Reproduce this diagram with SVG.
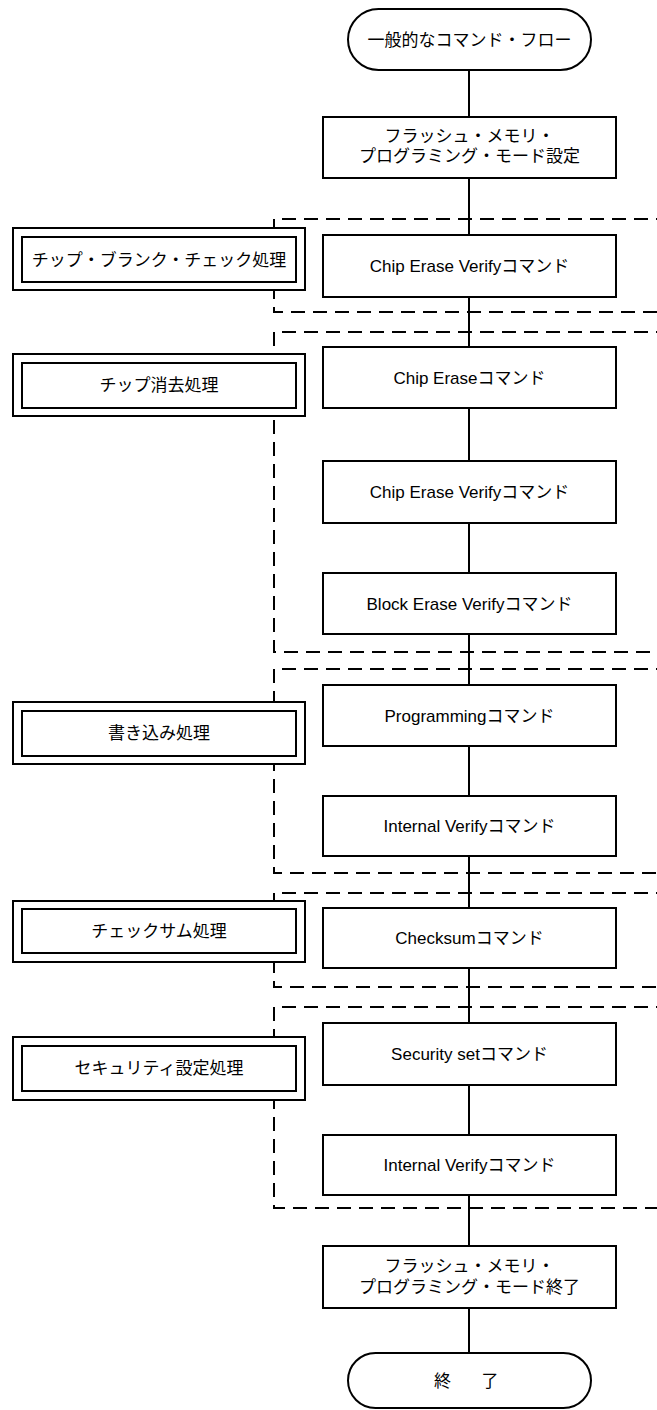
<svg xmlns="http://www.w3.org/2000/svg" width="657" height="1410" viewBox="0 0 657 1410">
<style>
.bx{fill:#fff;stroke:#000;stroke-width:2}
.ln{fill:none;stroke:#000;stroke-width:2}
.ds{fill:none;stroke:#000;stroke-width:2;stroke-dasharray:14 8}
text{font-family:"Liberation Sans","Noto Sans CJK JP",sans-serif;font-size:17px;fill:#000;text-anchor:middle}
</style>
<rect width="657" height="1410" fill="#fff"/>
<g id="groups">
<path class="ds" d="M670,219 H274 V312 H670"/>
<path class="ds" d="M670,332 H274 V652 H670"/>
<path class="ds" d="M670,669 H274 V873 H670"/>
<path class="ds" d="M670,893 H274 V987 H670"/>
<path class="ds" d="M670,1007 H274 V1208 H670"/>
</g>
<g id="connectors">
<line class="ln" x1="469" y1="70" x2="469" y2="117"/>
<line class="ln" x1="469" y1="178" x2="469" y2="235"/>
<line class="ln" x1="469" y1="297" x2="469" y2="347"/>
<line class="ln" x1="469" y1="408" x2="469" y2="461"/>
<line class="ln" x1="469" y1="523" x2="469" y2="573"/>
<line class="ln" x1="469" y1="634" x2="469" y2="685"/>
<line class="ln" x1="469" y1="746" x2="469" y2="796"/>
<line class="ln" x1="469" y1="856" x2="469" y2="908"/>
<line class="ln" x1="469" y1="968" x2="469" y2="1023"/>
<line class="ln" x1="469" y1="1085" x2="469" y2="1135"/>
<line class="ln" x1="469" y1="1195" x2="469" y2="1246"/>
<line class="ln" x1="469" y1="1308" x2="469" y2="1353"/>
</g>
<g id="start">
<rect class="bx" x="348" y="9" width="243" height="61" rx="30.5"/>
<text x="469.5" y="46">一般的なコマンド・フロー</text>
</g>
<g id="mode-set">
<rect class="bx" x="323" y="117" width="293" height="61"/>
<text x="469.5" y="142">フラッシュ・メモリ・</text>
<text x="469.5" y="162">プログラミング・モード設定</text>
</g>
<g id="label-blank">
<rect class="bx" x="13" y="228" width="292" height="62"/>
<rect class="bx" x="22" y="237" width="274" height="45"/>
<text x="159" y="266">チップ・ブランク・チェック処理</text>
</g>
<g id="cev1">
<rect class="bx" x="323" y="235" width="293" height="62"/>
<text x="469.5" y="272">Chip Erase Verifyコマンド</text>
</g>
<g id="label-erase">
<rect class="bx" x="13" y="354" width="292" height="62"/>
<rect class="bx" x="22" y="363" width="274" height="45"/>
<text x="159" y="391">チップ消去処理</text>
</g>
<g id="ce">
<rect class="bx" x="323" y="347" width="293" height="61"/>
<text x="469.5" y="384">Chip Eraseコマンド</text>
</g>
<g id="cev2">
<rect class="bx" x="323" y="461" width="293" height="62"/>
<text x="469.5" y="498">Chip Erase Verifyコマンド</text>
</g>
<g id="bev">
<rect class="bx" x="323" y="573" width="293" height="61"/>
<text x="469.5" y="610">Block Erase Verifyコマンド</text>
</g>
<g id="label-write">
<rect class="bx" x="13" y="702" width="292" height="62"/>
<rect class="bx" x="22" y="711" width="274" height="45"/>
<text x="159" y="739">書き込み処理</text>
</g>
<g id="prog">
<rect class="bx" x="323" y="685" width="293" height="61"/>
<text x="469.5" y="722">Programmingコマンド</text>
</g>
<g id="iv1">
<rect class="bx" x="323" y="796" width="293" height="60"/>
<text x="469.5" y="832">Internal Verifyコマンド</text>
</g>
<g id="label-checksum">
<rect class="bx" x="13" y="901" width="292" height="61"/>
<rect class="bx" x="22" y="909" width="274" height="44"/>
<text x="159" y="937">チェックサム処理</text>
</g>
<g id="checksum">
<rect class="bx" x="323" y="908" width="293" height="60"/>
<text x="469.5" y="944">Checksumコマンド</text>
</g>
<g id="label-security">
<rect class="bx" x="13" y="1037" width="292" height="63"/>
<rect class="bx" x="22" y="1046" width="274" height="45"/>
<text x="159" y="1074">セキュリティ設定処理</text>
</g>
<g id="security">
<rect class="bx" x="323" y="1023" width="293" height="62"/>
<text x="469.5" y="1060">Security setコマンド</text>
</g>
<g id="iv2">
<rect class="bx" x="323" y="1135" width="293" height="60"/>
<text x="469.5" y="1171">Internal Verifyコマンド</text>
</g>
<g id="mode-end">
<rect class="bx" x="323" y="1246" width="293" height="62"/>
<text x="469.5" y="1272">フラッシュ・メモリ・</text>
<text x="469.5" y="1293">プログラミング・モード終了</text>
</g>
<g id="end">
<rect class="bx" x="348" y="1353" width="243" height="55" rx="27.5"/>
<text x="442.5 490" y="1387">終了</text>
</g>
</svg>
